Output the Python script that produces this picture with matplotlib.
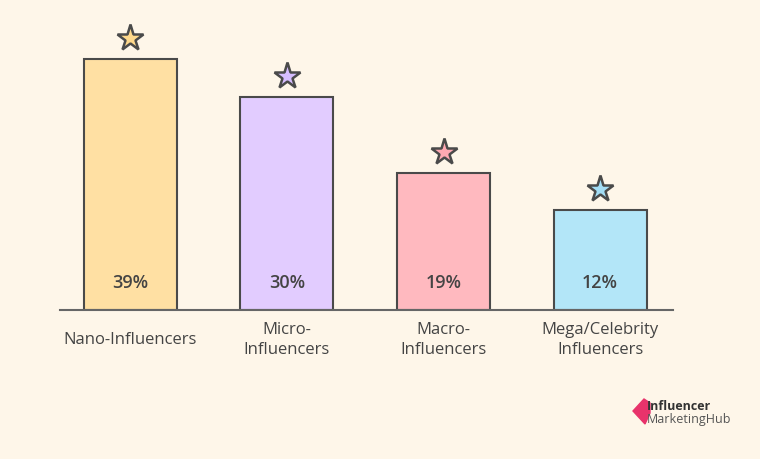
import matplotlib.pyplot as plt
from matplotlib.patches import Polygon

# data
categories = ["Nano-Influencers", "Micro-\nInfluencers", "Macro-\nInfluencers", "Mega/Celebrity\nInfluencers"]
shares = [39, 30, 19, 12]
# bar heights as drawn in the infographic (not proportional to the shares)
drawn_heights = [39, 33.1, 21.3, 15.5]
bar_colors = ["#FFE0A3", "#E2CCFF", "#FFB9BF", "#B3E6F8"]
star_colors = ["#FFD98C", "#D6BDFF", "#FFA9B2", "#A3DDF5"]

BG = "#FEF6E9"
EDGE = "#4A4A4A"
TEXT = "#444444"

plt.rcParams['font.family'] = ['Open Sans', 'DejaVu Sans']

fig = plt.figure(figsize=(7.6, 4.6), dpi=100, facecolor=BG)
ax = fig.add_axes([60 / 760, 149 / 460, 613 / 760, 311 / 460])
ax.set_facecolor(BG)

x = list(range(len(categories)))
ax.bar(x, drawn_heights, width=0.594, color=bar_colors, edgecolor=EDGE, linewidth=1.5, zorder=2)

for xi, h, s, sc, cat in zip(x, drawn_heights, shares, star_colors, categories):
    ax.plot(xi, h + 3.3, marker='*', markersize=20, markerfacecolor=sc,
            markeredgecolor=EDGE, markeredgewidth=1.8, zorder=3, clip_on=False)
    ax.text(xi, 4.4, f"{s}%", ha='center', va='center', fontsize=13,
            fontweight='semibold', color=TEXT, zorder=4)
    ax.text(xi, -4.5, cat, ha='center', va='center', fontsize=12, color=TEXT,
            linespacing=1.28)

ax.set_xlim(-0.45, 3.466)
ax.set_ylim(0, 311 / 6.44)
for side in ['top', 'right', 'left']:
    ax.spines[side].set_visible(False)
ax.spines['bottom'].set_color("#666666")
ax.spines['bottom'].set_linewidth(1.5)
ax.set_xticks([])
ax.set_yticks([])

# logo
pts = [(633, 412), (644, 400), (650, 404), (650, 414), (645, 425)]
diamond = Polygon([(px / 760, 1 - py / 460) for px, py in pts],
                  closed=True, transform=fig.transFigure, color="#E8336B")
fig.patches.append(diamond)
fig.text(647 / 760, 1 - 407 / 460, "Influencer", fontsize=9, fontweight='bold',
         color="#333333", va='center', ha='left')
fig.text(647 / 760, 1 - 420 / 460, "MarketingHub", fontsize=9, color="#555555",
         va='center', ha='left')

fig.savefig("out.png", dpi=100, facecolor=BG)
